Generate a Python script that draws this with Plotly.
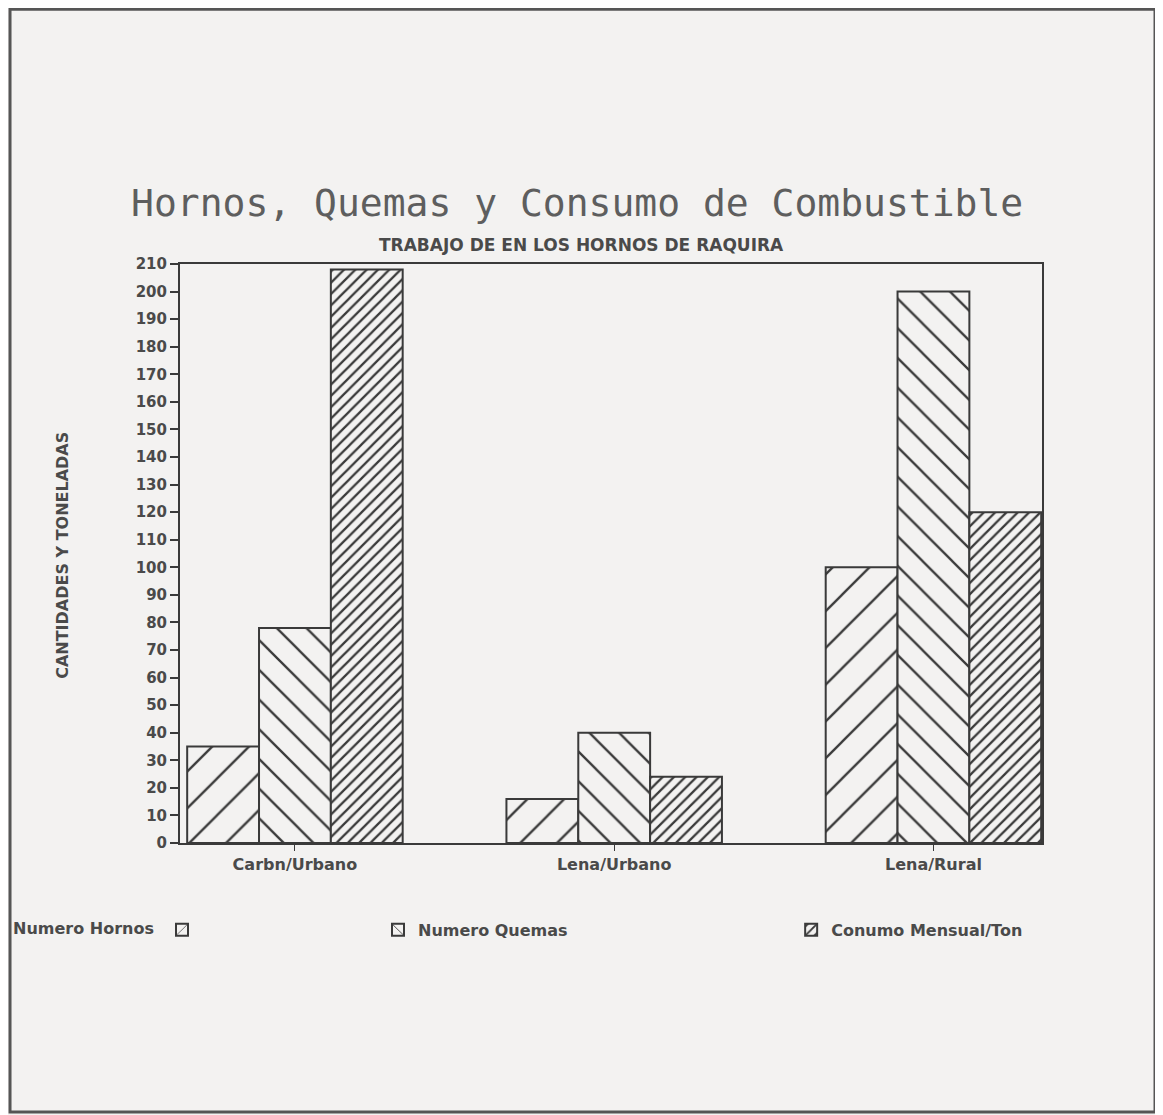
import plotly.graph_objects as go

categories = ["Carbn/Urbano", "Lena/Urbano", "Lena/Rural"]
numero_hornos = [35, 16, 100]
numero_quemas = [78, 40, 200]
consumo_mensual = [208, 24, 120]
y_ticks = list(range(0, 211, 10))

series_names = ["Numero Hornos", "Numero Quemas", "Conumo Mensual/Ton"]

BG = "#f3f2f1"
INK = "#3a3a3a"
TXT = "#4a4a4a"

fig = go.Figure()

patterns = [
    dict(shape="/", size=26, solidity=0.09),
    dict(shape="\\", size=21, solidity=0.11),
    dict(shape="/", size=8, solidity=0.28),
]
legends = ["legend", "legend2", "legend3"]
names = ["", series_names[1], series_names[2]]

for vals, pat, lg, nm in zip([numero_hornos, numero_quemas, consumo_mensual], patterns, legends, names):
    fig.add_trace(go.Bar(
        x=categories, y=vals, name=nm, legend=lg,
        marker=dict(color=BG, line=dict(color=INK, width=2),
                    pattern=dict(shape=pat["shape"], size=pat["size"], solidity=pat["solidity"],
                                 fgcolor=INK, bgcolor=BG, fillmode="replace")),
    ))

tick_font = dict(family="DejaVu Sans", size=15, color=TXT, weight="bold")
label_font = dict(family="DejaVu Sans", size=16, color=TXT, weight="bold")

fig.update_layout(
    width=1163, height=1115,
    paper_bgcolor=BG, plot_bgcolor=BG,
    margin=dict(l=172, r=129, t=256, b=280, autoexpand=False),
    barmode="group", bargap=0.325, bargroupgap=0,
    showlegend=True,
    xaxis=dict(
        range=[-0.36, 2.34], showgrid=False, zeroline=False,
        showline=True, linecolor=INK, linewidth=2, mirror=True,
        ticks="outside", ticklen=6, tickwidth=1, tickcolor=INK,
        tickfont=label_font,
    ),
    yaxis=dict(
        range=[0, 210], tickvals=y_ticks, showgrid=False, zeroline=False,
        showline=True, linecolor=INK, linewidth=2, mirror=True,
        ticks="outside", ticklen=8, tickwidth=2, tickcolor=INK,
        tickfont=tick_font,
    ),
    legend=dict(
        x=-0.1960, xanchor="left", y=-0.150, yanchor="middle",
        orientation="h", bgcolor="rgba(0,0,0,0)",
        title=dict(text=series_names[0], side="left", font=label_font),
        font=label_font,
    ),
    legend2=dict(
        x=0.2297, xanchor="left", y=-0.150, yanchor="middle",
        orientation="h", bgcolor="rgba(0,0,0,0)", font=label_font,
    ),
    legend3=dict(
        x=0.7090, xanchor="left", y=-0.150, yanchor="middle",
        orientation="h", bgcolor="rgba(0,0,0,0)", font=label_font,
    ),
    annotations=[
        dict(text="Hornos, Quemas y Consumo de Combustible", x=0.46, y=1.105,
             xref="paper", yref="paper", showarrow=False, xanchor="center", yanchor="middle",
             font=dict(family="DejaVu Sans Mono", size=38, color="#5e5e5e")),
        dict(text="TRABAJO DE EN LOS HORNOS DE RAQUIRA", x=0.466, y=1.033,
             xref="paper", yref="paper", showarrow=False, xanchor="center", yanchor="middle",
             font=dict(family="DejaVu Sans", size=17, color=TXT, weight="bold")),
        dict(text="CANTIDADES Y TONELADAS", x=-0.1357, y=0.496, textangle=-90,
             xref="paper", yref="paper", showarrow=False, xanchor="center", yanchor="middle",
             font=label_font),
    ],
    shapes=[
        dict(type="rect", xref="paper", yref="paper",
             x0=-0.1972, x1=1.1311, y0=-0.4646, y1=1.440,
             line=dict(color="#555555", width=3), fillcolor="rgba(0,0,0,0)", layer="below"),
    ],
)

fig.write_html("out.html")
